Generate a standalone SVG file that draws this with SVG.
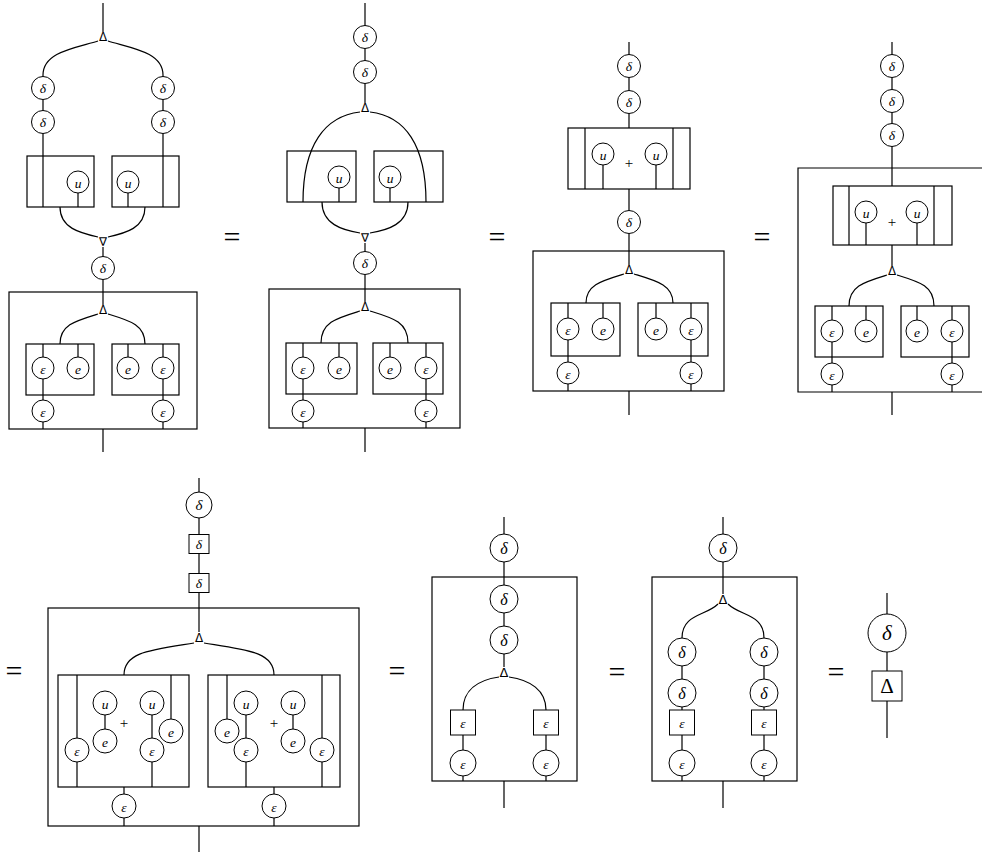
<svg xmlns="http://www.w3.org/2000/svg" width="982" height="854" viewBox="0 0 982 854">
<style>
.w{fill:none;stroke:#000;stroke-width:1.2}
.b{fill:none;stroke:#000;stroke-width:1.2}
.c{fill:#fff;stroke:#000;stroke-width:1}
text{fill:#000}
.l{font-family:"Liberation Serif",serif;font-style:italic;text-anchor:middle;dominant-baseline:central;font-size:13.5px}
.m{font-size:16px}
.g{font-family:"DejaVu Sans",sans-serif;text-anchor:middle;dominant-baseline:central;font-size:12px}
.p{font-family:"Liberation Serif",serif;text-anchor:middle;dominant-baseline:central;font-size:15px}
.eq{font-family:"Liberation Serif",serif;text-anchor:middle;dominant-baseline:central;font-size:30px}
.all{opacity:0.999}
</style>
<rect width="982" height="854" fill="#fff"/>
<g class="all">
<g id="connectors" class="w">
<path d="M103,3V32"/>
<path d="M98,41C75,48 43,52 43,75V207"/>
<path d="M108,41C131,48 163,52 163,75V207"/>
<path d="M78,193V207M128,193V207"/>
<path d="M60,207C60,228 80,233 98,237"/>
<path d="M145,207C145,228 126,233 108,237"/>
<path d="M103,247V305"/>
<path d="M98,314C75,321 60,325 60,344"/>
<path d="M108,314C131,321 145,325 145,344"/>
<path d="M43,344V429M78,344V357M128,344V357M163,344V429M103,429V452"/>
<path d="M365,3V103"/>
<path d="M360,112C325,116 303,145 303,202"/>
<path d="M370,112C405,116 426,145 426,202"/>
<path d="M339,188V202M390,188V202"/>
<path d="M322,202C322,224 342,230 360,233"/>
<path d="M408,202C408,224 388,230 370,233"/>
<path d="M365,243V302"/>
<path d="M360,311C337,318 321,322 321,343"/>
<path d="M370,311C393,318 408,322 408,343"/>
<path d="M303,343V428M339,343V357M390,343V357M426,343V428M365,428V452"/>
<path d="M629,42V128M585,128V189M673,128V189M603,165V189M656,165V189M629,189V265"/>
<path d="M624,274C601,281 586,285 586,303"/>
<path d="M634,274C657,281 673,285 673,303"/>
<path d="M568,303V391M603,303V318M656,303V318M691,303V391M629,391V415"/>
<path d="M892,42V186M849,186V245M934,186V245M866,223V245M917,223V245M892,245V266"/>
<path d="M887,275C864,282 849,286 849,306"/>
<path d="M897,275C920,282 934,286 934,306"/>
<path d="M832,306V392M866,306V320M917,306V320M952,306V392M892,392V415"/>
<path d="M199,478V632"/>
<path d="M194,643C150,650 124,652 124,675"/>
<path d="M204,643C248,650 274,652 274,675"/>
<path d="M77,675V787M105,703V741M152,703V787M171,675V731"/>
<path d="M227,675V731M246,703V787M293,703V741M322,675V787"/>
<path d="M124,787V826M274,787V826M199,826V852"/>
<path d="M504,517V667"/>
<path d="M499,677C478,680 463,690 463,710"/>
<path d="M509,677C530,680 546,690 546,710"/>
<path d="M463,735V781M546,735V781M504,781V808"/>
<path d="M723,517V594"/>
<path d="M718,604C706,616 682,614 682,638"/>
<path d="M728,604C740,616 764,614 764,638"/>
<path d="M682,638V781M764,638V781M723,781V808"/>
<path d="M887,593V738"/>
</g>
<g id="boxes" class="b">
<rect x="27" y="156" width="67" height="51"/>
<rect x="112" y="156" width="67" height="51"/>
<rect x="9" y="292" width="188" height="137"/>
<rect x="26" y="344" width="68" height="51"/>
<rect x="112" y="344" width="67" height="51"/>
<rect x="287" y="151" width="69" height="51"/>
<rect x="374" y="151" width="69" height="51"/>
<rect x="269" y="289" width="191" height="139"/>
<rect x="286" y="343" width="71" height="51"/>
<rect x="373" y="343" width="70" height="51"/>
<rect x="568" y="128" width="122" height="61"/>
<rect x="533" y="251" width="191" height="140"/>
<rect x="551" y="303" width="69" height="53"/>
<rect x="638" y="303" width="70" height="53"/>
<path d="M982,168H798V392H982"/>
<rect x="833" y="186" width="119" height="59"/>
<rect x="815" y="306" width="68" height="51"/>
<rect x="901" y="306" width="68" height="51"/>
<rect x="48" y="608" width="311" height="218"/>
<rect x="58" y="675" width="131" height="112"/>
<rect x="208" y="675" width="132" height="112"/>
<rect x="432" y="577" width="145" height="204"/>
<rect x="652" y="577" width="145" height="204"/>
</g>
<g id="d1">
<g id="d1-t1"><text class="g" x="103" y="37">Δ</text></g>
<g id="d1-d1"><circle class="c" cx="43" cy="88" r="11.5"/><text class="l" x="43" y="88">δ</text></g>
<g id="d1-d2"><circle class="c" cx="43" cy="122" r="11.5"/><text class="l" x="43" y="122">δ</text></g>
<g id="d1-d3"><circle class="c" cx="163" cy="88" r="11.5"/><text class="l" x="163" y="88">δ</text></g>
<g id="d1-d4"><circle class="c" cx="163" cy="122" r="11.5"/><text class="l" x="163" y="122">δ</text></g>
<g id="d1-u1"><circle class="c" cx="78" cy="182" r="11"/><text class="l" x="78" y="183">u</text></g>
<g id="d1-u2"><circle class="c" cx="128" cy="182" r="11"/><text class="l" x="128" y="183">u</text></g>
<g id="d1-t2"><text class="g" x="103" y="242">∇</text></g>
<g id="d1-d5"><circle class="c" cx="103" cy="268" r="11.5"/><text class="l" x="103" y="268">δ</text></g>
<g id="d1-t3"><text class="g" x="103" y="310">Δ</text></g>
<g id="d1-e1"><circle class="c" cx="43" cy="368" r="11"/><text class="l" x="43" y="369">ε</text></g>
<g id="d1-e2"><circle class="c" cx="78" cy="368" r="11"/><text class="l" x="78" y="369">e</text></g>
<g id="d1-e3"><circle class="c" cx="128" cy="368" r="11"/><text class="l" x="128" y="369">e</text></g>
<g id="d1-e4"><circle class="c" cx="163" cy="368" r="11"/><text class="l" x="163" y="369">ε</text></g>
<g id="d1-e5"><circle class="c" cx="43" cy="411" r="11"/><text class="l" x="43" y="412">ε</text></g>
<g id="d1-e6"><circle class="c" cx="163" cy="411" r="11"/><text class="l" x="163" y="412">ε</text></g>
</g>
<g id="d2">
<g id="d2-d1"><circle class="c" cx="365" cy="37" r="11.5"/><text class="l" x="365" y="37">δ</text></g>
<g id="d2-d2"><circle class="c" cx="365" cy="72" r="11.5"/><text class="l" x="365" y="72">δ</text></g>
<g id="d2-t1"><text class="g" x="365" y="108">Δ</text></g>
<g id="d2-u1"><circle class="c" cx="339" cy="177" r="11"/><text class="l" x="339" y="178">u</text></g>
<g id="d2-u2"><circle class="c" cx="390" cy="177" r="11"/><text class="l" x="390" y="178">u</text></g>
<g id="d2-t2"><text class="g" x="365" y="238">∇</text></g>
<g id="d2-d3"><circle class="c" cx="365" cy="263" r="11.5"/><text class="l" x="365" y="263">δ</text></g>
<g id="d2-t3"><text class="g" x="365" y="307">Δ</text></g>
<g id="d2-e1"><circle class="c" cx="303" cy="368" r="11"/><text class="l" x="303" y="369">ε</text></g>
<g id="d2-e2"><circle class="c" cx="339" cy="368" r="11"/><text class="l" x="339" y="369">e</text></g>
<g id="d2-e3"><circle class="c" cx="390" cy="368" r="11"/><text class="l" x="390" y="369">e</text></g>
<g id="d2-e4"><circle class="c" cx="426" cy="368" r="11"/><text class="l" x="426" y="369">ε</text></g>
<g id="d2-e5"><circle class="c" cx="303" cy="411" r="11"/><text class="l" x="303" y="412">ε</text></g>
<g id="d2-e6"><circle class="c" cx="426" cy="411" r="11"/><text class="l" x="426" y="412">ε</text></g>
</g>
<g id="d3">
<g id="d3-d1"><circle class="c" cx="629" cy="66" r="11.5"/><text class="l" x="629" y="66">δ</text></g>
<g id="d3-d2"><circle class="c" cx="629" cy="102" r="11.5"/><text class="l" x="629" y="102">δ</text></g>
<g id="d3-u1"><circle class="c" cx="603" cy="154" r="11"/><text class="l" x="603" y="155">u</text></g>
<g id="d3-u2"><circle class="c" cx="656" cy="154" r="11"/><text class="l" x="656" y="155">u</text></g>
<g id="d3-plus"><text class="p" x="629" y="163">+</text></g>
<g id="d3-d3"><circle class="c" cx="629" cy="222" r="11.5"/><text class="l" x="629" y="222">δ</text></g>
<g id="d3-t1"><text class="g" x="629" y="270">Δ</text></g>
<g id="d3-e1"><circle class="c" cx="568" cy="329" r="11"/><text class="l" x="568" y="330">ε</text></g>
<g id="d3-e2"><circle class="c" cx="603" cy="329" r="11"/><text class="l" x="603" y="330">e</text></g>
<g id="d3-e3"><circle class="c" cx="656" cy="329" r="11"/><text class="l" x="656" y="330">e</text></g>
<g id="d3-e4"><circle class="c" cx="691" cy="329" r="11"/><text class="l" x="691" y="330">ε</text></g>
<g id="d3-e5"><circle class="c" cx="568" cy="373" r="11"/><text class="l" x="568" y="374">ε</text></g>
<g id="d3-e6"><circle class="c" cx="691" cy="373" r="11"/><text class="l" x="691" y="374">ε</text></g>
</g>
<g id="d4">
<g id="d4-d1"><circle class="c" cx="892" cy="66" r="11.5"/><text class="l" x="892" y="66">δ</text></g>
<g id="d4-d2"><circle class="c" cx="892" cy="101" r="11.5"/><text class="l" x="892" y="101">δ</text></g>
<g id="d4-d3"><circle class="c" cx="892" cy="135" r="11.5"/><text class="l" x="892" y="135">δ</text></g>
<g id="d4-u1"><circle class="c" cx="866" cy="212" r="11"/><text class="l" x="866" y="213">u</text></g>
<g id="d4-u2"><circle class="c" cx="917" cy="212" r="11"/><text class="l" x="917" y="213">u</text></g>
<g id="d4-plus"><text class="p" x="892" y="222">+</text></g>
<g id="d4-t1"><text class="g" x="892" y="271">Δ</text></g>
<g id="d4-e1"><circle class="c" cx="832" cy="331" r="11"/><text class="l" x="832" y="332">ε</text></g>
<g id="d4-e2"><circle class="c" cx="866" cy="331" r="11"/><text class="l" x="866" y="332">e</text></g>
<g id="d4-e3"><circle class="c" cx="917" cy="331" r="11"/><text class="l" x="917" y="332">e</text></g>
<g id="d4-e4"><circle class="c" cx="952" cy="331" r="11"/><text class="l" x="952" y="332">ε</text></g>
<g id="d4-e5"><circle class="c" cx="832" cy="374" r="11"/><text class="l" x="832" y="375">ε</text></g>
<g id="d4-e6"><circle class="c" cx="952" cy="374" r="11"/><text class="l" x="952" y="375">ε</text></g>
</g>
<g id="d5">
<g id="d5-d1"><circle class="c" cx="199" cy="505" r="13"/><text class="l" style="font-size:15px" x="199" y="505">δ</text></g>
<g id="d5-s1"><rect class="c" x="189" y="534.5" width="20" height="19"/><text class="l" x="199" y="544">δ</text></g>
<g id="d5-s2"><rect class="c" x="189" y="573.5" width="20" height="19"/><text class="l" x="199" y="583">δ</text></g>
<g id="d5-t1"><text class="g" x="199" y="638">Δ</text></g>
<g id="d5-e1"><circle class="c" cx="77" cy="750" r="12"/><text class="l" x="77" y="751">ε</text></g>
<g id="d5-u1"><circle class="c" cx="105" cy="703" r="12"/><text class="l" x="105" y="704">u</text></g>
<g id="d5-e2"><circle class="c" cx="105" cy="741" r="12"/><text class="l" x="105" y="742">e</text></g>
<g id="d5-plus1"><text class="p" x="124" y="723">+</text></g>
<g id="d5-u2"><circle class="c" cx="152" cy="703" r="12"/><text class="l" x="152" y="704">u</text></g>
<g id="d5-e3"><circle class="c" cx="152" cy="750" r="12"/><text class="l" x="152" y="751">ε</text></g>
<g id="d5-e4"><circle class="c" cx="171" cy="731" r="12"/><text class="l" x="171" y="732">e</text></g>
<g id="d5-e5"><circle class="c" cx="227" cy="731" r="12"/><text class="l" x="227" y="732">e</text></g>
<g id="d5-u3"><circle class="c" cx="246" cy="703" r="12"/><text class="l" x="246" y="704">u</text></g>
<g id="d5-e6"><circle class="c" cx="246" cy="750" r="12"/><text class="l" x="246" y="751">ε</text></g>
<g id="d5-plus2"><text class="p" x="274" y="723">+</text></g>
<g id="d5-u4"><circle class="c" cx="293" cy="703" r="12"/><text class="l" x="293" y="704">u</text></g>
<g id="d5-e7"><circle class="c" cx="293" cy="741" r="12"/><text class="l" x="293" y="742">e</text></g>
<g id="d5-e8"><circle class="c" cx="322" cy="750" r="12"/><text class="l" x="322" y="751">ε</text></g>
<g id="d5-e9"><circle class="c" cx="124" cy="806" r="12"/><text class="l" x="124" y="807">ε</text></g>
<g id="d5-e10"><circle class="c" cx="274" cy="806" r="12"/><text class="l" x="274" y="807">ε</text></g>
</g>
<g id="d6">
<g id="d6-d1"><circle class="c" cx="504" cy="548" r="14"/><text class="l m" x="504" y="548">δ</text></g>
<g id="d6-d2"><circle class="c" cx="504" cy="599" r="14"/><text class="l m" x="504" y="599">δ</text></g>
<g id="d6-d3"><circle class="c" cx="504" cy="640" r="14"/><text class="l m" x="504" y="640">δ</text></g>
<g id="d6-t1"><text class="g" style="font-size:13px" x="504" y="672">Δ</text></g>
<g id="d6-s1"><rect class="c" x="450.5" y="710" width="25" height="25"/><text class="l" x="463" y="723">ε</text></g>
<g id="d6-s2"><rect class="c" x="533.5" y="710" width="25" height="25"/><text class="l" x="546" y="723">ε</text></g>
<g id="d6-e1"><circle class="c" cx="463" cy="763" r="13"/><text class="l" x="463" y="764">ε</text></g>
<g id="d6-e2"><circle class="c" cx="546" cy="763" r="13"/><text class="l" x="546" y="764">ε</text></g>
</g>
<g id="d7">
<g id="d7-d1"><circle class="c" cx="723" cy="548" r="14"/><text class="l m" x="723" y="548">δ</text></g>
<g id="d7-t1"><text class="g" style="font-size:13px" x="723" y="599">Δ</text></g>
<g id="d7-d2"><circle class="c" cx="682" cy="652" r="14"/><text class="l m" x="682" y="652">δ</text></g>
<g id="d7-d3"><circle class="c" cx="682" cy="693" r="14"/><text class="l m" x="682" y="693">δ</text></g>
<g id="d7-d4"><circle class="c" cx="764" cy="652" r="14"/><text class="l m" x="764" y="652">δ</text></g>
<g id="d7-d5"><circle class="c" cx="764" cy="693" r="14"/><text class="l m" x="764" y="693">δ</text></g>
<g id="d7-s1"><rect class="c" x="669.5" y="710" width="25" height="25"/><text class="l" x="682" y="723">ε</text></g>
<g id="d7-s2"><rect class="c" x="751.5" y="710" width="25" height="25"/><text class="l" x="764" y="723">ε</text></g>
<g id="d7-e1"><circle class="c" cx="682" cy="763" r="13"/><text class="l" x="682" y="764">ε</text></g>
<g id="d7-e2"><circle class="c" cx="764" cy="763" r="13"/><text class="l" x="764" y="764">ε</text></g>
</g>
<g id="d8">
<g id="d8-d1"><circle class="c" cx="887" cy="633" r="19"/><text class="l" style="font-size:21px" x="887" y="633">δ</text></g>
<g id="d8-s1"><rect class="c" x="872" y="671" width="30" height="30"/><text class="p" style="font-size:21px" x="887" y="686">Δ</text></g>
</g>
<g id="equals">
<text class="eq" x="232" y="236">=</text>
<text class="eq" x="497" y="236">=</text>
<text class="eq" x="762" y="236">=</text>
<text class="eq" x="14" y="670">=</text>
<text class="eq" x="397" y="670">=</text>
<text class="eq" x="617" y="671">=</text>
<text class="eq" x="836" y="671">=</text>
</g>
</g>
</svg>
